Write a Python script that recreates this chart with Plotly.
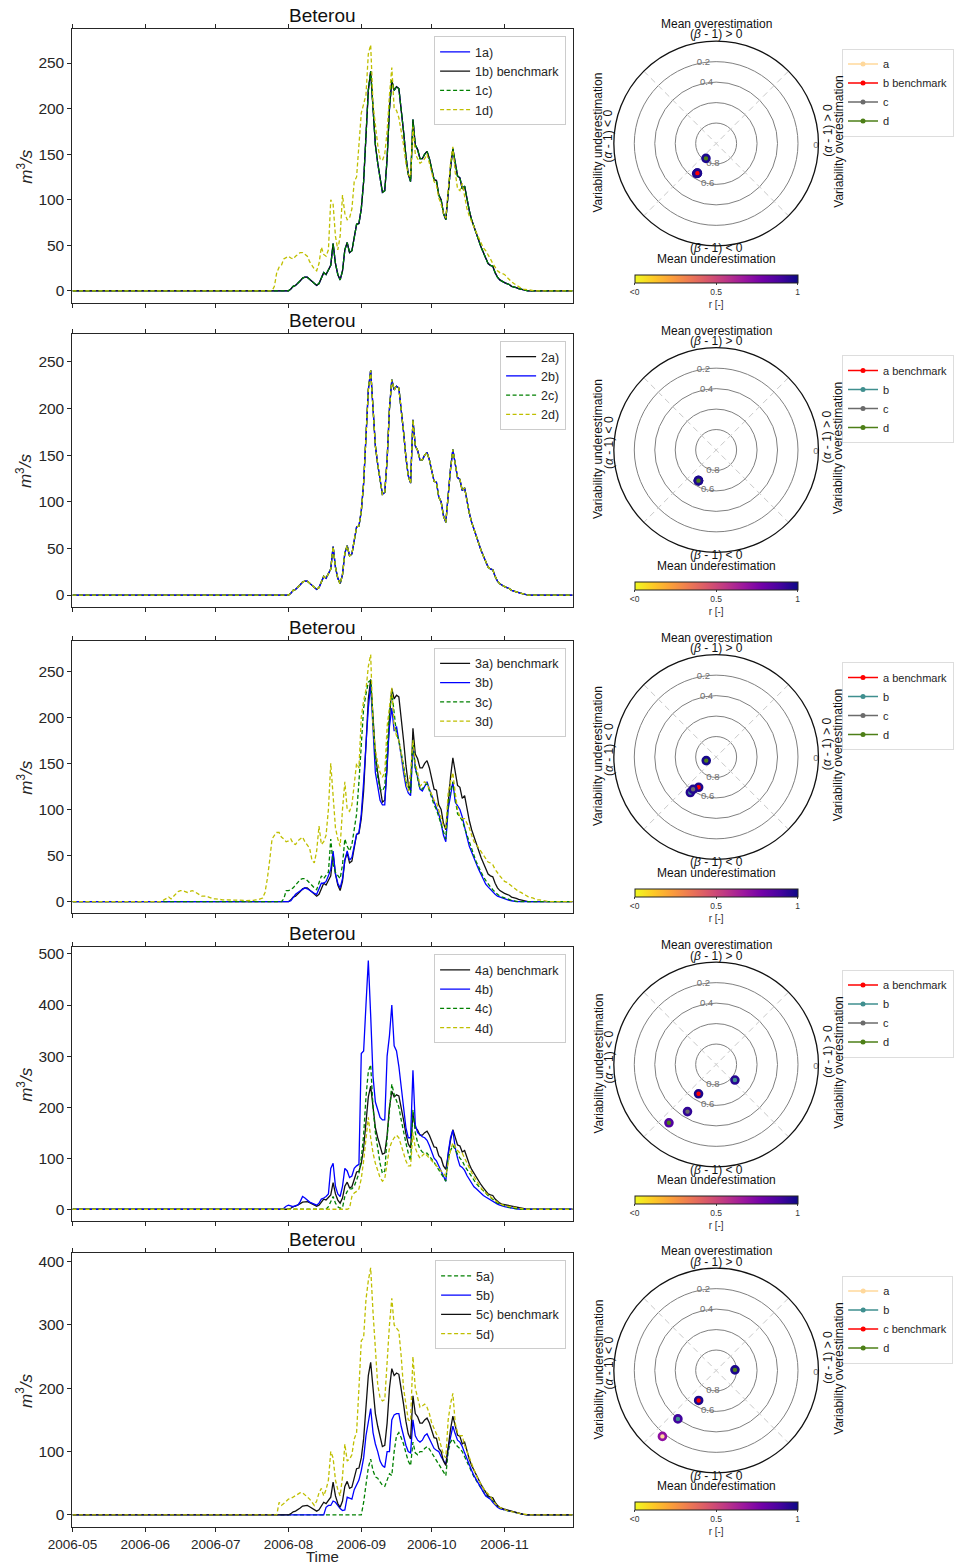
import pandas as pd
import plotly.graph_objects as go

W, H = 954, 1566

# ---------------- DATA ----------------
period_start, period_end = "2006-05-01", "2006-11-30"
month_ticks = ["2006-05-01", "2006-06-01", "2006-07-01", "2006-08-01",
               "2006-09-01", "2006-10-01", "2006-11-01"]
month_labels = ["2006-05", "2006-06", "2006-07", "2006-08", "2006-09", "2006-10", "2006-11"]

# daily discharge (m3/s); each series: first day of its active period + daily values
q_bench_start = "2006-08-01"
q_bench = [0, 2, 5, 6, 8, 11, 14, 15, 15, 13,
           11, 9, 6, 8, 14, 20, 18, 24, 28, 52,
           30, 18, 12, 22, 45, 53, 42, 44, 60, 73,
           74, 90, 120, 170, 220, 241, 195, 160, 140, 125,
           108, 110, 145, 200, 231, 220, 224, 222, 200, 175,
           148, 128, 120, 188, 160, 155, 145, 145, 150, 153,
           145, 135, 122, 121, 105, 100, 85, 78, 110, 135,
           156, 140, 126, 124, 112, 115, 100, 88, 78, 70,
           62, 55, 48, 42, 36, 30, 28, 27, 20, 15,
           12, 10, 9, 8, 7, 5, 4.5, 3.5, 2.5, 2,
           1, 0.5, 0]

q_1d_start = "2006-07-25"
q_1d = [0, 5, 20, 26, 28, 35, 37, 38, 36, 35,
        38, 40, 42, 42, 40, 38, 32, 28, 24, 22,
        30, 48, 40, 38, 45, 100, 95, 60, 45, 60,
        105, 85, 78, 80, 90, 120, 125, 160, 195, 205,
        215, 260, 270, 205, 180, 160, 145, 143, 150, 175,
        215, 245, 200, 198, 190, 175, 160, 140, 128, 125,
        180, 150, 145, 140, 142, 145, 150, 140, 128, 120,
        116, 102, 95, 85, 80, 110, 140, 158, 130, 112,
        110, 118, 105, 90, 82, 75, 70, 64, 58, 52,
        47, 44, 40, 35, 30, 26, 22, 20, 19, 18,
        15, 12, 10, 8, 6, 5, 3, 2, 1.5, 1,
        0.5, 0.3, 0]

q_3b_start = "2006-08-01"
q_3b = [0, 1, 5, 8, 10, 12, 14, 15, 14, 12,
        10, 9, 8, 14, 20, 20, 22, 28, 35, 55,
        30, 20, 15, 25, 45, 55, 45, 48, 60, 73,
        75, 95, 130, 175, 210, 235, 180, 140, 125, 110,
        105, 105, 150, 190, 210, 185, 190, 175, 158, 140,
        125, 118, 115, 170, 145, 135, 122, 120, 125, 130,
        122, 115, 108, 102, 95, 85, 72, 65, 100, 115,
        130, 108, 104, 100, 92, 80, 70, 60, 53, 47,
        41, 35, 29, 24, 19, 16, 13, 10, 8, 6,
        5, 4, 3, 2, 1.5, 1, 0.5, 0]

q_3c_start = "2006-07-29"
q_3c = [0, 3, 12, 12, 13, 15, 18, 20, 24, 25,
        25, 23, 20, 17, 15, 13, 20, 28, 25, 28,
        32, 68, 40, 32, 28, 25, 40, 68, 60, 55,
        62, 80, 95, 130, 170, 210, 225, 238, 240, 190,
        155, 135, 122, 120, 125, 165, 205, 228, 205, 182,
        175, 162, 148, 130, 125, 118, 175, 145, 132, 122,
        122, 126, 128, 120, 112, 105, 100, 92, 82, 75,
        68, 105, 120, 130, 110, 95, 92, 88, 80, 72,
        65, 58, 50, 43, 37, 32, 27, 23, 19, 16,
        13, 10, 8, 6, 5, 4, 3, 2, 1.5, 1,
        0.5, 0]

q_3d_start = "2006-06-08"
q_3d = [0, 2, 4, 5, 3, 6, 9, 11, 12, 12,
        11, 10, 11, 12, 11, 9, 7, 6, 6, 6,
        5, 4, 3, 3, 2.5, 2, 2, 2, 2, 2,
        2, 2, 1.5, 1.5, 1.5, 1.5, 1, 1, 1, 1.5,
        2, 2, 3, 4, 10, 25,
        45, 68, 72, 75, 75, 70, 68, 65, 66, 68,
        63, 62, 66, 68, 70, 65, 62, 58, 45, 42,
        55, 82, 62, 65, 72, 100, 150, 110, 80, 68,
        60, 100, 130, 100, 98, 105, 125, 150, 145, 200,
        218, 230, 255, 268, 190, 165, 150, 140, 135, 140,
        190, 215, 232, 190, 180, 175, 160, 145, 130, 120,
        140, 175, 150, 140, 125, 128, 130, 128, 122, 115,
        110, 108, 100, 92, 82, 80, 118, 130, 140, 118,
        100, 92, 90, 90, 85, 80, 72, 65, 62, 58,
        55, 50, 46, 43, 42, 40, 35, 31, 28, 25,
        22, 21, 19, 18, 15, 13, 11, 10, 8, 7,
        5.5, 5, 4, 3, 2, 2, 1.5, 1, 0.5, 0]

q_4b_start = "2006-07-29"
q_4b = [0, 2, 6, 8, 6, 5, 7, 8, 15, 25,
        22, 18, 14, 12, 10, 8, 12, 20, 22, 25,
        30, 80, 90, 45, 30, 25, 45, 80, 75, 62,
        65, 80, 85, 88, 305, 310, 400, 487, 380, 260,
        210, 195, 180, 175, 175, 300, 340, 400, 320, 310,
        280, 240, 200, 160, 140, 140, 272, 165, 150, 145,
        142, 140, 135, 125, 112, 100, 95, 85, 72, 62,
        55, 110, 140, 155, 120, 100, 85, 82, 76, 66,
        58, 50, 44, 40, 35, 30, 27, 24, 21, 18,
        15, 12, 10, 8, 6, 5, 4, 3, 2, 1.5,
        1, 0.5, 0]

q_4c_start = "2006-08-17"
q_4c = [0, 5, 15, 25, 12, 5, 2, 3, 25, 35,
        40, 40, 45, 60, 70, 100, 145, 220, 270, 283,
        200, 150, 120, 90, 70, 75, 140, 200, 245, 225,
        210, 200, 175, 150, 130, 110, 95, 195, 150, 130,
        118, 112, 110, 110, 105, 98, 92, 85, 78, 70,
        62, 55, 100, 115, 125, 115, 108, 100, 95, 85,
        78, 70, 62, 55, 50, 45, 40, 35, 31, 27,
        23, 19, 15, 12, 10, 8, 6, 4.5, 3.5, 2.5,
        1.5, 1, 0.5, 0]

q_4d_start = "2006-08-26"
q_4d = [0, 2, 25, 32, 35, 40, 60, 95, 140, 180,
        140, 110, 90, 75, 62, 55, 60, 90, 120, 132,
        140, 145, 140, 125, 110, 95, 85, 85, 150, 120,
        108, 100, 105, 110, 105, 100, 95, 90, 85, 80,
        75, 68, 65, 90, 115, 130, 122, 115, 110, 110,
        100, 90, 80, 72, 64, 56, 48, 42, 36, 32,
        28, 24, 20, 17, 14, 11, 9, 7, 6, 5,
        4, 3, 2, 1.5, 1, 0.5, 0]

q_5a_start = "2006-09-01"
q_5a = [0, 20, 50, 75, 88, 70, 60, 58, 52, 47,
        45, 55, 65, 62, 100, 125, 130, 122, 112, 98,
        85, 78, 115, 98, 95, 100, 100, 105, 108, 104,
        98, 92, 85, 80, 75, 68, 62, 100, 115, 120,
        112, 108, 105, 100, 92, 85, 75, 68, 60, 54,
        48, 42, 36, 31, 28, 26, 22, 17, 14, 11,
        9, 8, 7, 6, 5, 4, 3, 2, 1.5, 1,
        0.5, 0]

q_5b_start = "2006-08-16"
q_5b = [0, 12, 15, 15, 22, 20, 14, 10, 7, 8,
        28, 26, 25, 40, 48, 55, 70, 90, 125, 150,
        168, 130, 112, 100, 85, 78, 75, 100, 100, 150,
        158, 160, 160, 140, 125, 110, 100, 98, 150, 125,
        118, 115, 118, 125, 128, 120, 112, 105, 102, 100,
        92, 85, 80, 105, 125, 140, 128, 118, 115, 108,
        98, 88, 78, 70, 62, 55, 48, 42, 36, 30,
        27, 25, 20, 15, 12, 10, 9, 8, 7, 6,
        5, 4, 3, 2, 1.5, 1, 0.5, 0]

q_5d_start = "2006-07-27"
q_5d = [0, 20, 15, 18, 22, 25, 26, 28, 30, 33,
        35, 35, 32, 28, 25, 20, 15, 22, 35, 42,
        30, 40, 55, 100, 90, 55, 40, 30, 60, 112,
        85, 88, 95, 120, 130, 200, 275, 280, 340, 370,
        390, 320, 255, 205, 185, 180, 182, 250, 300, 342,
        300, 295, 290, 250, 200, 175, 150, 148, 250, 200,
        185, 170, 172, 175, 170, 160, 145, 135, 128, 122,
        110, 95, 90, 150, 175, 192, 145, 130, 125, 125,
        110, 100, 90, 80, 70, 62, 55, 48, 42, 37,
        33, 30, 22, 18, 14, 12, 10, 8, 7, 6,
        5, 4, 3, 2.5, 2, 1.5, 1, 0.5, 0]

# y-axis settings per row
y_ranges = [[-13, 287], [-12.5, 280], [-12.6, 283], [-23, 513], [-19.5, 413]]
y_ticks = [[0, 50, 100, 150, 200, 250], [0, 50, 100, 150, 200, 250],
           [0, 50, 100, 150, 200, 250], [0, 100, 200, 300, 400, 500],
           [0, 100, 200, 300, 400]]

# diagnostic polar plot points: radius, angle (deg), correlation r
polar_names = [["a", "b benchmark", "c", "d"],
               ["a benchmark", "b", "c", "d"],
               ["a benchmark", "b", "c", "d"],
               ["a benchmark", "b", "c", "d"],
               ["a", "b", "c benchmark", "d"]]
de_radius = [[0.343, 0.343, 0.35, 0.176],
             [0.346, 0.346, 0.346, 0.346],
             [0.342, 0.429, 0.388, 0.103],
             [0.334, 0.238, 0.539, 0.733],
             [0.831, 0.603, 0.339, 0.184]]
de_theta = [[237.7, 237.7, 237.0, 235.5],
            [240.0, 240.0, 240.0, 240.0],
            [240.0, 234.0, 234.5, 200.0],
            [239.0, 320.4, 238.7, 231.0],
            [230.8, 231.7, 239.7, 2.0]]
de_corr = [[0.97, 0.97, 0.97, 0.97],
           [0.97, 0.97, 0.97, 0.97],
           [0.97, 0.96, 0.96, 0.98],
           [0.97, 0.95, 0.93, 0.86],
           [0.70, 0.90, 0.97, 0.97]]
de_labels = ["0.2", "0.4", "0.6", "0.8", "0"]
de_label_values = [0.2, 0.4, 0.6, 0.8, 0.0]
cbar_tickvals = [0, 0.5, 1]
cbar_ticktext = ["&lt;0", "0.5", "1"]

# ---------------- STYLE / LAYOUT ----------------
C_BLUE, C_BLACK, C_GREEN, C_YEL = "#0000ff", "#111111", "#008000", "#bfbf00"
DASH = "4px,2.5px"
P_A, P_RED, P_GRAY, P_GREEN, P_TEAL = "#ffd89b", "#ff0000", "#6b6b6b", "#4d7f17", "#3f8f8f"

series = [
    [("1a)", q_bench, q_bench_start, C_BLUE, "solid"),
     ("1b) benchmark", q_bench, q_bench_start, C_BLACK, "solid"),
     ("1c)", q_bench, q_bench_start, C_GREEN, DASH),
     ("1d)", q_1d, q_1d_start, C_YEL, DASH)],
    [("2a)", q_bench, q_bench_start, C_BLACK, "solid"),
     ("2b)", q_bench, q_bench_start, C_BLUE, "solid"),
     ("2c)", q_bench, q_bench_start, C_GREEN, DASH),
     ("2d)", q_bench, q_bench_start, C_YEL, DASH)],
    [("3a) benchmark", q_bench, q_bench_start, C_BLACK, "solid"),
     ("3b)", q_3b, q_3b_start, C_BLUE, "solid"),
     ("3c)", q_3c, q_3c_start, C_GREEN, DASH),
     ("3d)", q_3d, q_3d_start, C_YEL, DASH)],
    [("4a) benchmark", q_bench, q_bench_start, C_BLACK, "solid"),
     ("4b)", q_4b, q_4b_start, C_BLUE, "solid"),
     ("4c)", q_4c, q_4c_start, C_GREEN, DASH),
     ("4d)", q_4d, q_4d_start, C_YEL, DASH)],
    [("5a)", q_5a, q_5a_start, C_GREEN, DASH),
     ("5b)", q_5b, q_5b_start, C_BLUE, "solid"),
     ("5c) benchmark", q_bench, q_bench_start, C_BLACK, "solid"),
     ("5d)", q_5d, q_5d_start, C_YEL, DASH)],
]
polar_colors = [[P_A, P_RED, P_GRAY, P_GREEN],
                [P_RED, P_TEAL, P_GRAY, P_GREEN],
                [P_RED, P_TEAL, P_GRAY, P_GREEN],
                [P_RED, P_TEAL, P_GRAY, P_GREEN],
                [P_A, P_TEAL, P_RED, P_GREEN]]
draw_order = [[0, 2, 1, 3], [0, 1, 2, 3], [0, 1, 2, 3], [0, 1, 2, 3], [0, 1, 2, 3]]
de_label_theta = [99, 99, 258, 261, 359]
de_label_pos = ["middle center"] * 4 + ["middle left"]

ts_top = [29.3, 334, 640.7, 947.3, 1253.3]
ts_bot = [302.7, 606.7, 913.3, 1221, 1527.3]
ts_left, ts_right = 73.3, 579.3
polar_cy = [143.5, 450, 757, 1064.5, 1370.5]
polar_cx, polar_R = 724.5, 103.5

FONT = "Liberation Sans, Arial, sans-serif"
AX = "#262626"


def fx(p):
    return p / W


def fy(p):
    return 1 - p / H


fig = go.Figure()
layout = dict(template="none", width=W, height=H, margin=dict(l=0, r=0, t=0, b=0, pad=0),
              paper_bgcolor="white", plot_bgcolor="white",
              font=dict(family=FONT, color=AX), annotations=[])

for i in range(5):
    k = "" if i == 0 else str(i + 1)
    leg = "legend" + k
    # ---- time series ----
    for name, vals, start, color, dash in series[i]:
        days = list(pd.date_range(start, periods=len(vals), freq="D"))
        xs = [pd.Timestamp(period_start)] + days + [pd.Timestamp(period_end)]
        ys = [0] + list(vals) + [0]
        fig.add_trace(go.Scatter(x=xs, y=ys, mode="lines", name=name,
                                 line=dict(color=color, width=1.3, dash=dash),
                                 xaxis="x" + k, yaxis="y" + k, legend=leg))
    layout["xaxis" + k] = dict(
        domain=[fx(ts_left), fx(ts_right)], anchor="y" + k, type="date", automargin=False,
        range=[period_start, period_end], tickvals=month_ticks, ticktext=month_labels,
        showticklabels=(i == 4), ticks="outside", ticklen=4, tickcolor=AX,
        showline=True, linecolor=AX, linewidth=1.2, mirror="allticks",
        showgrid=False, zeroline=False, tickfont=dict(size=13.5, color=AX))
    layout["yaxis" + k] = dict(
        domain=[fy(ts_bot[i]), fy(ts_top[i])], anchor="x" + k, automargin=False,
        range=y_ranges[i], tickvals=y_ticks[i], ticks="outside", ticklen=4, tickcolor=AX,
        showline=True, linecolor=AX, linewidth=1.2, mirror=True,
        showgrid=False, zeroline=False, tickfont=dict(size=15.5, color=AX))
    layout[leg] = dict(x=fx(572.7), xanchor="right", y=fy(ts_top[i] + 7), yanchor="top",
                       bgcolor="rgba(255,255,255,0.85)", bordercolor="#cccccc", borderwidth=1,
                       font=dict(size=12.5, color=AX), itemwidth=30, tracegroupgap=0)
    layout["annotations"].append(dict(
        text="Beterou", x=fx((ts_left + ts_right) / 2), y=fy(ts_top[i] - 1),
        xref="paper", yref="paper", xanchor="center", yanchor="bottom",
        showarrow=False, font=dict(size=19, color="#111")))
    layout["annotations"].append(dict(
        text="<i>m</i><sup>3</sup><i>/s</i>", x=fx(25), y=fy((ts_top[i] + ts_bot[i]) / 2),
        xref="paper", yref="paper", xanchor="center", yanchor="middle", textangle=-90,
        showarrow=False, font=dict(size=17, color=AX)))

    # ---- diagnostic polar plot ----
    pid = "polar" + k
    pleg = "legend" + str(i + 6)
    cax = "coloraxis" + k
    cy = polar_cy[i]
    for th in (45, 135):
        fig.add_trace(go.Scatterpolar(r=[1, 0, 1], theta=[th, th, th + 180], mode="lines",
                                      line=dict(color="#c8c8c8", width=1, dash="6px,4px"),
                                      showlegend=False, hoverinfo="skip", subplot=pid))
    fig.add_trace(go.Scatterpolar(
        r=[1 - v for v in de_label_values], theta=de_label_theta, mode="text",
        text=de_labels, textposition=de_label_pos,
        textfont=dict(size=9.5, color="#6e6e6e"), showlegend=False,
        hoverinfo="skip", subplot=pid))
    for j in draw_order[i]:
        fig.add_trace(go.Scatterpolar(
            r=[de_radius[i][j]], theta=[de_theta[i][j]], mode="markers",
            marker=dict(color=polar_colors[i][j], size=7,
                        line=dict(color=[de_corr[i][j]], coloraxis=cax, width=2.6)),
            showlegend=False, subplot=pid))
    for j in range(4):
        fig.add_trace(go.Scatterpolar(
            r=[None], theta=[None], mode="lines+markers", name=polar_names[i][j],
            line=dict(color=polar_colors[i][j], width=1.5),
            marker=dict(color=polar_colors[i][j], size=5),
            subplot=pid, legend=pleg))
    layout[pid] = dict(
        domain=dict(x=[fx(polar_cx - polar_R), fx(polar_cx + polar_R)],
                    y=[fy(cy + polar_R), fy(cy - polar_R)]),
        bgcolor="white",
        radialaxis=dict(range=[0, 1], tickvals=[0.2, 0.4, 0.6, 0.8], showticklabels=False,
                        ticks="", showline=False, gridcolor="#808080", gridwidth=1),
        angularaxis=dict(showgrid=False, showticklabels=False, ticks="", showline=True,
                         linecolor="#111111", linewidth=1.3))
    layout[cax] = dict(
        colorscale="Plasma", reversescale=True, cmin=0, cmax=1,
        colorbar=dict(orientation="h", x=fx(polar_cx), xanchor="center",
                      y=fy(cy + 131.5), yanchor="top", len=165 / W, lenmode="fraction",
                      thickness=8, thicknessmode="pixels", xpad=0, ypad=0,
                      outlinewidth=1, outlinecolor="#222",
                      tickvals=cbar_tickvals, ticktext=cbar_ticktext,
                      ticks="outside", ticklen=2, tickfont=dict(size=8.5, color="#333"),
                      title=dict(text="r [-]", side="bottom", font=dict(size=10, color="#333"))))
    layout[pleg] = dict(x=fx(852), xanchor="left", y=fy(cy - 95), yanchor="top",
                        bgcolor="white", bordercolor="#dddddd", borderwidth=1,
                        font=dict(size=11, color=AX), itemwidth=30, tracegroupgap=0)

    ann = [
        ("Mean overestimation", polar_cx, cy - 119.5, 0),
        ("(<i>β</i> - 1) &gt; 0", polar_cx, cy - 109, 0),
        ("(<i>β</i> - 1) &lt; 0", polar_cx, cy + 105, 0),
        ("Mean underestimation", polar_cx, cy + 115.5, 0),
        ("Variability underestimation", 605, cy - 1, -90),
        ("(<i>α</i> - 1) &lt; 0", 616, cy - 8, -90),
        ("(<i>α</i> - 1) &gt; 0", 837, cy - 13, -90),
        ("Variability overestimation", 848, cy - 2, -90),
    ]
    for txt, ax_, ay_, ang in ann:
        layout["annotations"].append(dict(
            text=txt, x=fx(ax_), y=fy(ay_), xref="paper", yref="paper",
            xanchor="center", yanchor="middle", textangle=ang, showarrow=False,
            font=dict(size=12, color="#111")))

layout["annotations"].append(dict(
    text="Time", x=fx((ts_left + ts_right) / 2), y=fy(1556), xref="paper", yref="paper",
    xanchor="center", yanchor="middle", showarrow=False, font=dict(size=15, color=AX)))

fig.update_layout(**layout)
fig.write_html("out.html", config={"displayModeBar": False},
               post_script="document.body.style.margin='0';document.body.style.overflow='hidden';")
